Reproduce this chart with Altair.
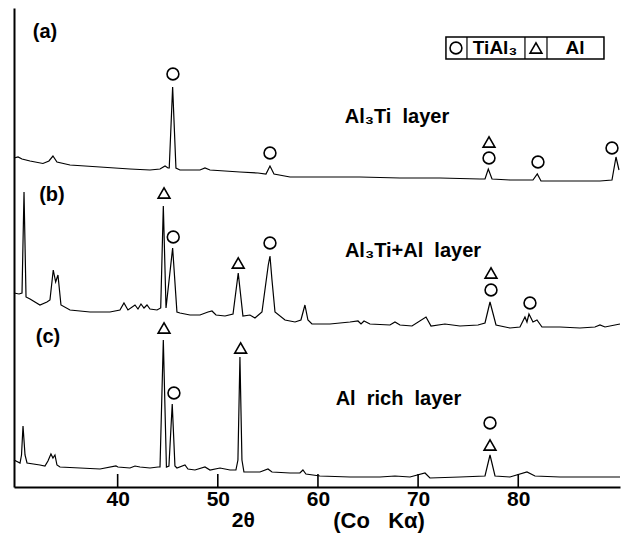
import altair as alt
import pandas as pd

# ---- trace (a): Al3Ti layer ----
theta_a = [29.65, 30.05, 30.45, 31.25, 32.54, 33.14, 33.54, 33.94, 35.24, 38.24, 41.23, 43.23,
           44.23, 44.73, 45.03, 45.15, 45.49, 45.82, 46.22, 48.22, 48.72, 49.22, 52.21, 54.01,
           54.81, 55.21, 55.61, 57.21, 60.2, 64.2, 68.19, 72.18, 76.18, 76.68, 77.01, 77.38,
           79.17, 81.47, 81.90, 82.27, 85.16, 88.16, 89.36, 89.76, 90.06]
counts_a = [329, 330, 328, 326, 323.5, 326, 331, 325, 322, 320, 318, 317,
            318, 321, 319, 319, 400, 319, 317, 317, 319, 317, 315, 314,
            313, 321, 313, 310, 310, 310, 309, 309, 308, 308, 318, 308,
            307, 307, 313, 306, 306, 306, 307, 330, 317]

# ---- trace (b): Al3Ti+Al layer ----
theta_b = [29.65, 30.15, 30.45, 30.65, 30.85, 31.25, 32.24, 32.94, 33.24, 33.57, 33.81, 34.04,
           34.34, 35.24, 37.24, 39.23, 40.23, 40.63, 41.03, 41.73, 42.03, 42.33, 42.63, 42.93,
           43.23, 43.93, 44.30, 44.56, 44.83, 45.49, 45.92, 46.22, 47.22, 48.22, 49.02, 49.42,
           49.82, 50.72, 51.52, 52.04, 52.51, 53.21, 53.71, 54.41, 55.04, 55.21, 55.41, 55.71,
           56.71, 57.71, 58.30, 58.70, 59.0, 59.40, 61.20, 63.20, 64.00, 64.30, 64.60, 65.19,
           67.19, 67.69, 68.19, 69.39, 70.79, 71.29, 72.68, 74.18, 75.98, 76.68, 77.18, 77.78,
           79.17, 80.17, 80.67, 80.87, 81.07, 81.47, 81.87, 82.37, 84.17, 86.16, 87.66, 88.16,
           88.66, 90.16]
counts_b = [194, 193, 194, 295, 190, 188, 182, 185, 187, 217, 205, 212,
            182, 177, 175, 175, 177, 184, 177, 182, 178, 183, 179, 182,
            178, 177, 179, 281, 179, 239, 175, 174, 172, 172, 175, 176,
            172, 171, 173, 214, 171, 172, 169, 175, 222, 231, 207, 175,
            167, 165, 167, 182, 167, 163, 163, 165, 166, 163, 166, 163,
            162, 165, 162, 161, 170, 161, 163, 161, 162, 164, 185, 162,
            159, 160, 170, 165, 173, 165, 167, 160, 160, 159, 160, 162,
            160, 163]

# ---- trace (c): Al rich layer ----
theta_c = [29.65, 30.25, 30.40, 30.55, 30.75, 30.95, 32.24, 32.74, 33.04, 33.34, 33.54, 33.74,
           33.94, 34.24, 36.24, 38.24, 39.83, 40.03, 41.23, 41.73, 42.23, 43.23, 44.03, 44.23,
           44.56, 44.87, 45.12, 45.45, 45.72, 45.92, 46.72, 47.02, 47.72, 48.72, 49.22, 50.22,
           51.22, 51.81, 52.01, 52.21, 52.41, 52.61, 54.21, 55.01, 55.41, 57.21, 58.2, 58.5,
           58.8, 60.2, 63.2, 66.19, 67.69, 69.19, 70.69, 71.18, 74.18, 76.68, 77.18, 77.68,
           79.17, 80.87, 81.67, 84.17, 87.16, 90.16]
counts_c = [27, 24, 32, 61, 32, 24, 22, 21, 26, 33, 29, 32,
            22, 20, 19, 18, 21, 20, 19, 21, 20, 19, 20, 20,
            147, 20, 21, 83, 21, 19, 22, 18, 17, 20, 17, 19,
            17, 17, 27, 130, 27, 15, 15, 18, 15, 14, 14, 17,
            13, 11, 10, 10, 11, 10, 14, 9, 10, 11, 32, 11,
            10, 15, 11, 10, 10, 10]

# ---- phase markers ----
mark_theta = [45.52, 55.21, 77.08, 77.08, 81.97, 89.36,
              44.63, 45.55, 52.04, 55.21, 77.28, 77.28, 81.17,
              44.63, 45.62, 52.28, 77.18, 77.18]
mark_count = [413, 334, 345, 329, 325, 339,
              294, 250, 224, 244, 214, 197, 184,
              159, 94, 139, 64, 42]
mark_phase = ["TiAl3", "TiAl3", "Al", "TiAl3", "TiAl3", "TiAl3",
              "Al", "TiAl3", "Al", "TiAl3", "Al", "TiAl3", "TiAl3",
              "Al", "TiAl3", "Al", "TiAl3", "Al"]

# ---- text labels ----
NB = "\u00a0"
panel_labels = ["(a)", "(b)", "(c)"]
panel_theta = [32.74, 33.44, 33.04]
panel_count = [455, 292, 150]

layer_labels = ["Al\u2083Ti" + NB * 2 + "layer", "Al\u2083Ti+Al" + NB * 2 + "layer",
                "Al" + NB * 2 + "rich" + NB * 2 + "layer"]
layer_theta = [67.89, 69.49, 68.04]
layer_count = [370, 236, 88]

# legend box (in data units)
box_theta = [72.78, 88.56]
box_count = [428, 450]
box_dividers = [74.88, 80.67, 82.87]
legend_symbol_theta = [73.78, 81.77]
legend_symbol_phase = ["TiAl3", "Al"]
legend_text = ["TiAl\u2083", "Al"]
legend_text_theta = [77.68, 85.66]
legend_count = 439

tick_values = [40, 50, 60, 70, 80]
x_domain = [29.65, 90.16]
y_domain = [0, 479]

FONT = "Liberation Sans"

traces = pd.concat([
    pd.DataFrame({"theta": theta_a, "counts": counts_a, "trace": "a"}),
    pd.DataFrame({"theta": theta_b, "counts": counts_b, "trace": "b"}),
    pd.DataFrame({"theta": theta_c, "counts": counts_c, "trace": "c"}),
])
markers = pd.DataFrame({"theta": mark_theta, "counts": mark_count, "phase": mark_phase})
panels = pd.DataFrame({"theta": panel_theta, "counts": panel_count, "label": panel_labels})
layers = pd.DataFrame({"theta": layer_theta, "counts": layer_count, "label": layer_labels})
ticks = pd.DataFrame({"theta": tick_values})
box = pd.DataFrame({"x": [box_theta[0]], "x2": [box_theta[1]], "y": [box_count[0]], "y2": [box_count[1]]})
dividers = pd.DataFrame({"theta": box_dividers, "y": box_count[0], "y2": box_count[1]})
leg_sym = pd.DataFrame({"theta": legend_symbol_theta, "counts": legend_count, "phase": legend_symbol_phase})
leg_txt = pd.DataFrame({"theta": legend_text_theta, "counts": legend_count, "label": legend_text})

xs = alt.Scale(domain=x_domain, nice=False, zero=False)
ys = alt.Scale(domain=y_domain, nice=False, zero=False)
x_axis = alt.Axis(values=tick_values, title=None, grid=False, ticks=False,
                  domain=True, domainColor="black", domainWidth=2,
                  labelFont=FONT, labelFontSize=21, labelFontWeight="bold",
                  labelColor="black", labelPadding=1, labelFlush=False)
y_axis = alt.Axis(title=None, grid=False, ticks=False, labels=False,
                  domain=True, domainColor="black", domainWidth=2)

shape_scale = alt.Scale(domain=["TiAl3", "Al"], range=["circle", "triangle-up"])

lines = alt.Chart(traces).mark_line(color="black", strokeWidth=1.2).encode(
    x=alt.X("theta:Q", scale=xs, axis=x_axis),
    y=alt.Y("counts:Q", scale=ys, axis=y_axis),
    detail="trace:N",
)

pts = alt.Chart(markers).mark_point(filled=False, color="black", strokeWidth=1.6, size=140, opacity=1).encode(
    x=alt.X("theta:Q", scale=xs),
    y=alt.Y("counts:Q", scale=ys),
    shape=alt.Shape("phase:N", scale=shape_scale, legend=None),
)

tick_rules = alt.Chart(ticks).mark_rule(color="black", strokeWidth=1.6).encode(
    x=alt.X("theta:Q", scale=xs),
    y=alt.datum(0, scale=ys),
    y2=alt.datum(13),
)

panel_text = alt.Chart(panels).mark_text(font=FONT, fontSize=20, fontWeight="bold", color="black").encode(
    x=alt.X("theta:Q", scale=xs), y=alt.Y("counts:Q", scale=ys), text="label:N")

layer_text = alt.Chart(layers).mark_text(font=FONT, fontSize=20, fontWeight="bold", color="black").encode(
    x=alt.X("theta:Q", scale=xs), y=alt.Y("counts:Q", scale=ys), text="label:N")

box_rect = alt.Chart(box).mark_rect(fillOpacity=0, stroke="black", strokeWidth=1.5).encode(
    x=alt.X("x:Q", scale=xs), x2="x2:Q", y=alt.Y("y:Q", scale=ys), y2="y2:Q")

div_rules = alt.Chart(dividers).mark_rule(color="black", strokeWidth=1.2).encode(
    x=alt.X("theta:Q", scale=xs), y=alt.Y("y:Q", scale=ys), y2="y2:Q")

leg_pts = alt.Chart(leg_sym).mark_point(filled=False, color="black", strokeWidth=1.6, size=140, opacity=1).encode(
    x=alt.X("theta:Q", scale=xs), y=alt.Y("counts:Q", scale=ys),
    shape=alt.Shape("phase:N", scale=shape_scale, legend=None))

leg_text = alt.Chart(leg_txt).mark_text(font=FONT, fontSize=19, fontWeight="bold", color="black").encode(
    x=alt.X("theta:Q", scale=xs), y=alt.Y("counts:Q", scale=ys), text="label:N")

title_2theta = alt.Chart(pd.DataFrame({"theta": [52.55], "label": ["2\u03b8"]})).mark_text(
    font=FONT, fontSize=21, fontWeight="bold", color="black").encode(
    x=alt.X("theta:Q", scale=xs), y=alt.value(513), text="label:N")
title_co = alt.Chart(pd.DataFrame({"theta": [66.1], "label": ["(Co" + NB * 3 + "K\u03b1)"]})).mark_text(
    font=FONT, fontSize=22, fontWeight="bold", color="black").encode(
    x=alt.X("theta:Q", scale=xs), y=alt.value(513), text="label:N")

chart = alt.layer(
    lines, tick_rules, pts, panel_text, layer_text, box_rect, div_rules, leg_pts, leg_text,
    title_2theta, title_co
).properties(
    width=606, height=479,
    autosize=alt.AutoSizeParams(type="none"),
    padding={"left": 14, "top": 8, "right": 5, "bottom": 46},
    background="white",
).configure_view(stroke=None)

chart.save("out.html", embed_options={"renderer": "svg", "actions": False})
